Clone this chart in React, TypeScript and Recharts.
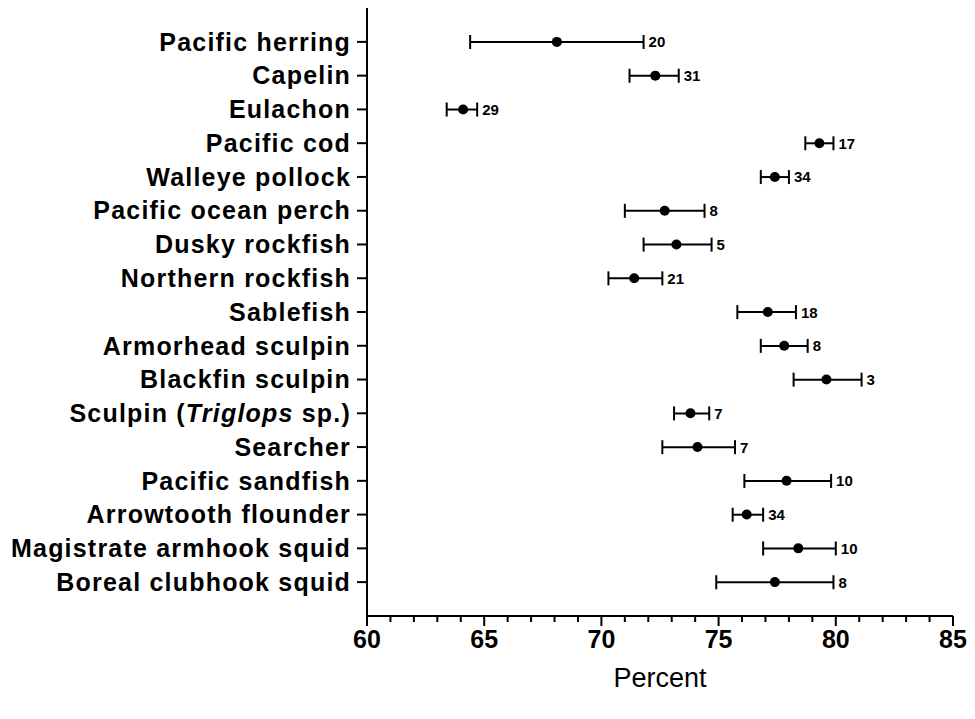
import React from 'react';
import { ComposedChart, Bar, Line, XAxis, YAxis } from 'recharts';

const species = [
  'Pacific herring',
  'Capelin',
  'Eulachon',
  'Pacific cod',
  'Walleye pollock',
  'Pacific ocean perch',
  'Dusky rockfish',
  'Northern rockfish',
  'Sablefish',
  'Armorhead sculpin',
  'Blackfin sculpin',
  'Sculpin (Triglops sp.)',
  'Searcher',
  'Pacific sandfish',
  'Arrowtooth flounder',
  'Magistrate armhook squid',
  'Boreal clubhook squid',
];
const means = [68.1, 72.3, 64.1, 79.3, 77.4, 72.7, 73.2, 71.4, 77.1, 77.8, 79.6, 73.8, 74.1, 77.9, 76.2, 78.4, 77.4];
const lower = [64.4, 71.2, 63.4, 78.7, 76.8, 71.0, 71.8, 70.3, 75.8, 76.8, 78.2, 73.1, 72.6, 76.1, 75.6, 76.9, 74.9];
const upper = [71.8, 73.3, 64.7, 79.9, 78.0, 74.4, 74.7, 72.6, 78.3, 78.8, 81.1, 74.6, 75.7, 79.8, 76.9, 80.0, 79.9];
const counts = [20, 31, 29, 17, 34, 8, 5, 21, 18, 8, 3, 7, 7, 10, 34, 10, 8];
const xTicks = [60, 61, 62, 63, 64, 65, 66, 67, 68, 69, 70, 71, 72, 73, 74, 75, 76, 77, 78, 79, 80, 81, 82, 83, 84, 85];
const xLabelTicks = [60, 65, 70, 75, 80, 85];

const data = species.map((name, i) => ({
  name,
  mean: means[i],
  range: [lower[i], upper[i]],
  n: counts[i],
}));

const FONT = '"Liberation Sans", Arial, Helvetica, sans-serif';

const RangeShape = (props: any) => {
  const { x, y, width, height, payload } = props;
  const cy = y + height / 2;
  const x1 = x;
  const x2 = x + width;
  return (
    <g>
      <line x1={x1} y1={cy} x2={x2} y2={cy} stroke="#000" strokeWidth={2} />
      <line x1={x1} y1={cy - 7} x2={x1} y2={cy + 7} stroke="#000" strokeWidth={2} />
      <line x1={x2} y1={cy - 7} x2={x2} y2={cy + 7} stroke="#000" strokeWidth={2} />
      <text x={x2 + 5} y={cy} dy="0.36em" fontFamily={FONT} fontWeight="bold" fontSize={15} fill="#000">
        {payload.n}
      </text>
    </g>
  );
};

const YTick = (props: any) => {
  const { x, y, payload } = props;
  const v: string = payload.value;
  const idx = v.indexOf('Triglops');
  return (
    <text x={x} y={y} dy="0.35em" textAnchor="end" fontFamily={FONT} fontWeight="bold" fontSize={25} letterSpacing={1.2} fill="#000">
      {idx >= 0 ? (
        <>
          <tspan>{v.slice(0, idx)}</tspan>
          <tspan fontStyle="italic">Triglops</tspan>
          <tspan>{v.slice(idx + 8)}</tspan>
        </>
      ) : (
        v
      )}
    </text>
  );
};

const XTick = (props: any) => {
  const { x, y, payload } = props;
  const v: number = payload.value;
  const major = xLabelTicks.includes(v);
  return (
    <g>
      <line x1={x} y1={y} x2={x} y2={y + (major ? 10 : 6)} stroke="#000" strokeWidth={2} />
      {major && (
        <text x={x} y={y + 32} textAnchor="middle" fontFamily={FONT} fontWeight="bold" fontSize={25} fill="#000">
          {v}
        </text>
      )}
    </g>
  );
};

export default function App() {
  return (
    <div style={{ width: 960, height: 703, background: '#fff' }}>
      <ComposedChart
        width={960}
        height={703}
        data={data}
        layout="vertical"
        margin={{ top: 0, right: 15, bottom: 0, left: 0 }}
      >
        <XAxis
          type="number"
          domain={[60, 85]}
          ticks={xTicks}
          interval={0}
          allowDataOverflow
          height={95}
          tickSize={0}
          tickMargin={0}
          tickLine={false}
          axisLine={{ stroke: '#000', strokeWidth: 2 }}
          tick={<XTick />}
          label={{ value: 'Percent', position: 'insideBottom', offset: 24, fontFamily: FONT, fontSize: 27, fill: '#000' }}
        />
        <YAxis
          type="category"
          dataKey="name"
          width={359}
          interval={0}
          padding={{ top: 17, bottom: 17 }}
          tickSize={10}
          tickMargin={6}
          tickLine={{ stroke: '#000', strokeWidth: 2 }}
          axisLine={{ stroke: '#000', strokeWidth: 2 }}
          tick={<YTick />}
        />
        <Bar dataKey="range" barSize={14} shape={<RangeShape />} isAnimationActive={false} />
        <Line
          dataKey="mean"
          stroke="none"
          strokeWidth={0}
          dot={{ r: 5, fill: '#000', stroke: 'none' }}
          activeDot={false}
          isAnimationActive={false}
        />
      </ComposedChart>
    </div>
  );
}
